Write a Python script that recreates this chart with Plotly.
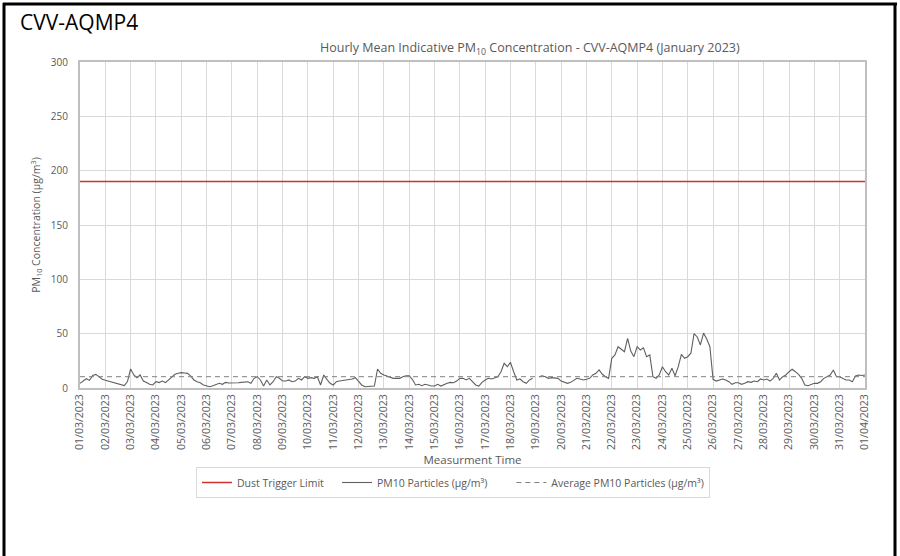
import pandas as pd
import plotly.graph_objects as go

# ---- data (3-hourly samples) ----
pm10_values = [
    4.3, 6.5, 8.5, 7.0, 11.5, 12.5, 10.4, 8.0,      # 01/03
    7.2, 6.4, 5.8, 4.9, 4.0, 3.0, 2.2, 6.0,         # 02/03
    17.5, 12.0, 9.5, 12.0, 6.4, 5.0, 3.4, 2.8,      # 03/03
    5.8, 5.0, 6.4, 5.0, 7.4, 10.4, 12.6, 13.5,      # 04/03
    14.1, 13.8, 13.5, 11.0, 7.4, 5.8, 4.9, 2.8,     # 05/03
    1.8, 1.2, 2.1, 3.4, 4.3, 3.4, 5.2, 4.6,         # 06/03
    4.6, 4.3, 4.9, 5.2, 5.5, 5.8, 4.3, 8.9,         # 07/03
    10.4, 7.4, 1.8, 7.4, 2.8, 5.8, 10.4, 8.9,       # 08/03
    6.4, 6.4, 7.4, 5.8, 6.4, 8.9, 7.4, 10.4,        # 09/03
    8.9, 9.5, 8.9, 10.4, 2.8, 12.0, 8.0, 4.3,       # 10/03
    2.8, 5.8, 6.4, 6.7, 7.4, 7.4, 8.3, 9.5,         # 11/03
    6.4, 2.8, 1.2, 1.2, 1.2, 1.8, 17.5, 13.5,       # 12/03
    12.0, 10.8, 9.5, 8.9, 8.9, 8.9, 10.4, 11.3,     # 13/03
    11.3, 8.0, 2.8, 3.4, 2.1, 3.4, 2.8, 1.8,        # 14/03
    1.8, 3.4, 1.8, 3.4, 4.3, 5.2, 4.9, 6.4,         # 15/03
    8.9, 8.9, 7.4, 8.9, 5.8, 2.8, 1.8, 5.2,         # 16/03
    7.4, 8.9, 8.3, 9.5, 10.4, 15.0, 22.7, 19.6,     # 17/03
    23.6, 15.0, 7.4, 8.3, 5.8, 4.3, 7.4, 8.9,       # 18/03
    None, 10.4, 11.3, 10.4, 8.9, 9.5, 8.9, 8.9,     # 19/03
    6.4, 5.2, 4.3, 5.2, 7.4, 8.9, 8.3, 7.4,         # 20/03
    8.0, 8.9, 12.0, 13.5, 16.6, 12.6, 10.4, 8.9,    # 21/03
    27.3, 30.4, 38.0, 36.0, 33.4, 45.7, 34.0, 28.8, # 22/03
    38.0, 35.0, 37.0, 28.8, 30.4, 10.4, 8.9, 12.0,  # 23/03
    19.6, 15.0, 12.0, 18.1, 11.3, 19.6, 31.0, 27.3, # 24/03
    28.8, 32.0, 50.0, 47.0, 39.6, 50.5, 45.0, 38.0, # 25/03
    8.0, 6.4, 7.4, 8.3, 7.4, 5.8, 3.4, 4.9,         # 26/03
    4.9, 3.4, 4.3, 5.8, 5.2, 6.4, 5.8, 8.3,         # 27/03
    7.4, 8.3, 6.4, 8.9, 13.5, 7.4, 10.4, 12.0,      # 28/03
    15.0, 17.2, 15.0, 12.6, 8.9, 2.8, 2.1, 3.4,     # 29/03
    4.3, 4.3, 5.8, 8.9, 10.4, 12.0, 16.6, 10.4,     # 30/03
    10.4, 8.9, 7.4, 7.4, 5.8, 11.0, 12.0, 11.5,     # 31/03
    12.0,                                           # 01/04 00:00
]
start_time = "2023-03-01 00:00"
end_time = "2023-04-01 00:00"
dust_trigger_limit = 190
average_pm10 = 10.4
tick_dates = pd.date_range("2023-03-01", "2023-04-01", freq="D")
tick_labels = [d.strftime("%d/%m/%Y") for d in tick_dates]

times = pd.date_range(start_time, periods=len(pm10_values), freq="3h")

FONT = "Open Sans, Liberation Sans, sans-serif"
GREY_TXT = "#595959"
NB = "\u00a0"

fig = go.Figure()
fig.add_trace(go.Scatter(
    x=[start_time, end_time], y=[dust_trigger_limit, dust_trigger_limit],
    mode="lines", name="Dust Trigger Limit" + NB * 3,
    line=dict(color="#d0312d", width=1.5),
))
fig.add_trace(go.Scatter(
    x=times, y=pm10_values, mode="lines", name="PM10 Particles (µg/m³)" + NB * 7,
    line=dict(color="#606060", width=1.1), connectgaps=False,
))
fig.add_trace(go.Scatter(
    x=[start_time, end_time], y=[average_pm10, average_pm10],
    mode="lines", name="Average PM10 Particles (µg/m³)",
    line=dict(color="#808080", width=1, dash="5px,4px"),
))

W, H = 900, 556
PL, PR, PT, PB = 80, 865, 62, 388  # plot area in page pixels


def px(x):
    return (x - PL) / (PR - PL)


def py(y):
    return (PB - y) / (PB - PT)


fig.update_layout(
    width=W, height=H,
    margin=dict(l=PL, r=W - PR, t=PT, b=H - PB),
    paper_bgcolor="white", plot_bgcolor="white",
    font=dict(family=FONT, color=GREY_TXT, size=10),
    showlegend=True,
    legend=dict(
        orientation="h", x=px(453), xanchor="center", y=py(467), yanchor="top",
        bordercolor="#d9d9d9", borderwidth=1, bgcolor="white",
        font=dict(size=10.5, color=GREY_TXT), itemwidth=30,
    ),
    xaxis=dict(
        type="date", range=[start_time, end_time],
        tickvals=tick_dates, ticktext=tick_labels, tickangle=-90,
        tickfont=dict(size=10.5, color=GREY_TXT),
        showgrid=True, gridcolor="#d9d9d9", gridwidth=1,
        showline=True, linecolor="#bfbfbf", linewidth=2, mirror=True,
        ticks="", zeroline=False,
        title=dict(text="Measurment Time", font=dict(size=11.5, color=GREY_TXT), standoff=7),
    ),
    yaxis=dict(
        range=[0, 300], dtick=50, tickfont=dict(size=10, color=GREY_TXT),
        showgrid=True, gridcolor="#d9d9d9", gridwidth=1,
        showline=True, linecolor="#bfbfbf", linewidth=2, mirror=True,
        ticks="", zeroline=False, ticklabelstandoff=8,
        title=dict(text="PM<sub>10</sub> Concentration (µg/m<sup>3</sup>)",
                   font=dict(size=10.5, color=GREY_TXT), standoff=8),
    ),
    annotations=[
        dict(text="CVV-AQMP4", xref="paper", yref="paper", x=px(18), y=py(22),
             xanchor="left", yanchor="middle", showarrow=False,
             font=dict(family=FONT, size=21, color="black")),
        dict(text="Hourly Mean Indicative PM<sub>10</sub> Concentration - CVV-AQMP4 (January 2023)",
             xref="paper", yref="paper", x=px(530), y=py(48),
             xanchor="center", yanchor="middle", showarrow=False,
             font=dict(family=FONT, size=12.5, color=GREY_TXT)),
    ],
    shapes=[
        dict(type="line", xref="paper", yref="paper", x0=px(3), x1=px(897), y0=py(4), y1=py(4),
             line=dict(color="black", width=3)),
        dict(type="line", xref="paper", yref="paper", x0=px(4), x1=px(4), y0=py(3), y1=py(556),
             line=dict(color="black", width=3)),
        dict(type="line", xref="paper", yref="paper", x0=px(895), x1=px(895), y0=py(3), y1=py(556),
             line=dict(color="black", width=3)),
    ],
)

fig.write_html("out.html", config={"displayModeBar": False},
               post_script="document.body.style.margin='0';")
